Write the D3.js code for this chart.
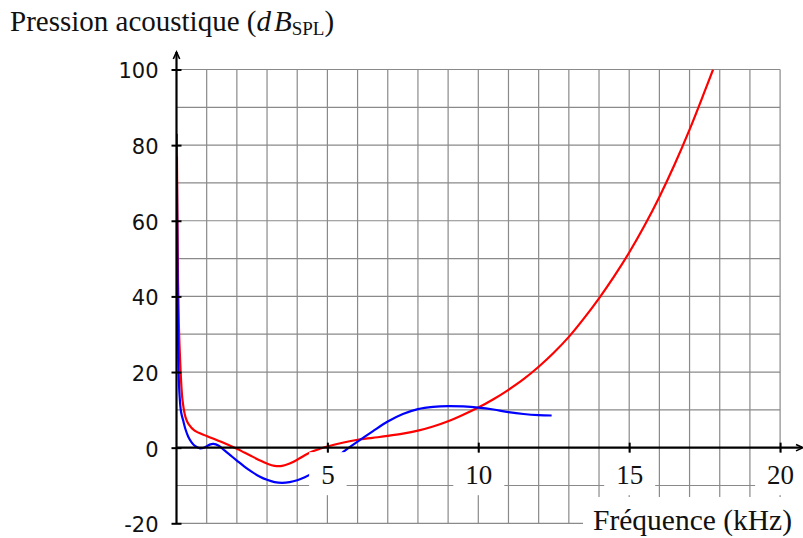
<!DOCTYPE html>
<html>
<head>
<meta charset="utf-8">
<script src="https://cdn.jsdelivr.net/npm/d3@7"></script>
<style>
  html, body { margin: 0; padding: 0; background: #fff; }
  svg { display: block; }
</style>
</head>
<body>
<svg id="chart" width="803" height="538"></svg>
<script>
// Frequency in kHz, sound pressure level in dB SPL
const redFreq = [0.01, 0.03, 0.05, 0.08, 0.11, 0.15, 0.2, 0.3, 0.4, 0.6, 1, 1.5, 2, 2.25, 2.5, 2.75, 3, 3.25, 3.5, 3.75, 4, 4.25, 4.5, 4.75, 5, 5.5, 6, 6.5, 7, 7.5, 8, 8.5, 9, 9.5, 10, 10.5, 11, 11.5, 12, 12.5, 13, 13.5, 14, 14.5, 15, 15.5, 16, 16.5, 17, 17.5, 17.78];
const redLevel = [83, 62, 45, 32, 25, 18, 12.5, 8, 6.2, 4.5, 3.1, 1.5, -0.3, -1.3, -2.3, -3.3, -4.2, -4.8, -4.8, -4.2, -3.2, -2.0, -1.0, -0.3, 0.3, 1.3, 2.1, 2.6, 3.1, 3.7, 4.5, 5.6, 7.0, 8.7, 10.6, 12.8, 15.3, 18.1, 21.4, 25.1, 29.3, 34.2, 39.5, 45.3, 51.6, 58.6, 66.3, 74.8, 84.1, 94.2, 100];

const blueFreq = [0.01, 0.03, 0.05, 0.07, 0.1, 0.15, 0.23, 0.3, 0.39, 0.5, 0.61, 0.78, 0.94, 1.1, 1.22, 1.4, 1.6, 1.8, 2, 2.25, 2.5, 2.75, 3, 3.25, 3.5, 3.75, 4, 4.25, 4.5, 4.75, 5, 5.25, 5.5, 5.75, 6, 6.5, 7, 7.5, 8, 8.5, 9, 9.5, 10, 10.5, 11, 11.5, 12, 12.43];
const blueLevel = [77, 50, 30, 20, 14, 9.5, 6.9, 4.8, 2.9, 1.4, 0.45, -0.2, 0.1, 0.8, 1.0, 0.5, -0.8, -2.1, -3.4, -5.0, -6.4, -7.6, -8.5, -9.1, -9.3, -9.1, -8.6, -7.8, -6.8, -5.6, -4.2, -2.8, -1.3, 0.2, 1.6, 4.3, 6.9, 8.9, 10.2, 10.8, 11.0, 10.9, 10.6, 10.1, 9.4, 8.9, 8.6, 8.5];

const xTicks = [5, 10, 15, 20];
const yTicks = [-20, 0, 20, 40, 60, 80, 100];
const xGrid = d3.range(1, 21);
const yGrid = d3.range(-20, 101, 10);

const svg = d3.select("#chart");

const x = d3.scaleLinear().domain([0, 20]).range([176.5, 780.1]);
const y = d3.scaleLinear().domain([-20, 100]).range([523.3, 69.5]);

const serif = "'Liberation Serif', 'Times New Roman', serif";
const sans = "'DejaVu Sans', sans-serif";

// grid
const grid = svg.append("g").attr("stroke", "#8a8a8a").attr("stroke-width", 1.2);
grid.selectAll("line.v").data(xGrid).join("line")
  .attr("x1", d => x(d)).attr("x2", d => x(d))
  .attr("y1", y(100)).attr("y2", y(-20));
grid.selectAll("line.h").data(yGrid.filter(d => d !== 0)).join("line")
  .attr("x1", x(0)).attr("x2", x(20))
  .attr("y1", d => y(d)).attr("y2", d => y(d));

// curves
svg.append("clipPath").attr("id", "plot")
  .append("rect").attr("x", x(0)).attr("y", y(100))
  .attr("width", x(20) - x(0)).attr("height", y(-20) - y(100));

const line = d3.line()
  .x(d => x(d[0])).y(d => y(d[1]))
  .curve(d3.curveCatmullRom.alpha(0.5));

const curves = svg.append("g").attr("clip-path", "url(#plot)").attr("fill", "none")
  .attr("stroke-width", 2.2).attr("stroke-linejoin", "round");
curves.append("path")
  .datum(d3.zip(redFreq, redLevel))
  .attr("stroke", "#ff0000").attr("d", line);
curves.append("path")
  .datum(d3.zip(blueFreq, blueLevel))
  .attr("stroke", "#0000ff").attr("d", line);

// x axis tick labels on white tiles
const xAxis = svg.append("g").attr("transform", `translate(0,${y(0)})`)
  .call(d3.axisBottom(x).tickValues(xTicks).tickSize(0).tickPadding(0));
xAxis.select(".domain").remove();
xAxis.selectAll(".tick text")
  .attr("font-family", serif).attr("font-size", 27).attr("fill", "#111")
  .attr("y", 36).attr("dy", 0);
xAxis.selectAll(".tick").each(function () {
  const g = d3.select(this);
  const bb = g.select("text").node().getBBox();
  g.insert("rect", "text")
    .attr("x", bb.x - 12).attr("y", 4.5)
    .attr("width", bb.width + 24).attr("height", 43)
    .attr("fill", "#fff");
  g.append("line").attr("y1", -5).attr("y2", 5)
    .attr("stroke", "#000").attr("stroke-width", 2);
});

// x axis title on a white tile
const xTitle = svg.append("g");
xTitle.append("rect")
  .attr("x", 583).attr("y", 497)
  .attr("width", 803 - 583).attr("height", 41)
  .attr("fill", "#fff");
xTitle.append("text")
  .attr("x", 593).attr("y", 530)
  .attr("font-family", serif).attr("font-size", 29.5).attr("fill", "#111")
  .text("Fréquence (kHz)");

// y axis ticks and labels
const yAxis = svg.append("g").attr("transform", `translate(${x(0)},0)`)
  .call(d3.axisLeft(y).tickValues(yTicks).tickSize(0).tickPadding(18)
    .tickFormat(d => String(d)));
yAxis.select(".domain").remove();
yAxis.selectAll(".tick text")
  .attr("font-family", sans).attr("font-size", 21).attr("fill", "#111")
  .attr("dy", "0.4em");
yAxis.selectAll(".tick").append("line")
  .attr("x1", -5).attr("x2", 5)
  .attr("stroke", "#000").attr("stroke-width", 2);

// axis lines with arrow heads
const axes = svg.append("g").attr("stroke", "#000").attr("fill", "none");
axes.append("line").attr("x1", x(0)).attr("x2", x(0))
  .attr("y1", y(-20)).attr("y2", 52).attr("stroke-width", 2.2);
axes.append("path")
  .attr("d", `M${x(0) - 3.2},59 L${x(0)},52 L${x(0) + 3.2},59`)
  .attr("stroke-width", 1.6);
axes.append("line").attr("x1", x(0)).attr("x2", 802)
  .attr("y1", y(0)).attr("y2", y(0)).attr("stroke-width", 2.2);
axes.append("path")
  .attr("d", `M796,${y(0) - 3.2} L803,${y(0)} L796,${y(0) + 3.2}`)
  .attr("stroke-width", 1.6);

// y axis title
const title = svg.append("text")
  .attr("x", 10).attr("y", 31)
  .attr("font-family", serif).attr("font-size", 29).attr("fill", "#111");
title.append("tspan").text("Pression acoustique (");
title.append("tspan").attr("font-style", "italic").text("d");
title.append("tspan").attr("font-style", "italic").attr("dx", 3).text("B");
title.append("tspan").attr("font-size", 19).attr("dy", 4).text("SPL");
title.append("tspan").attr("dy", -4).text(")");
</script>
</body>
</html>
